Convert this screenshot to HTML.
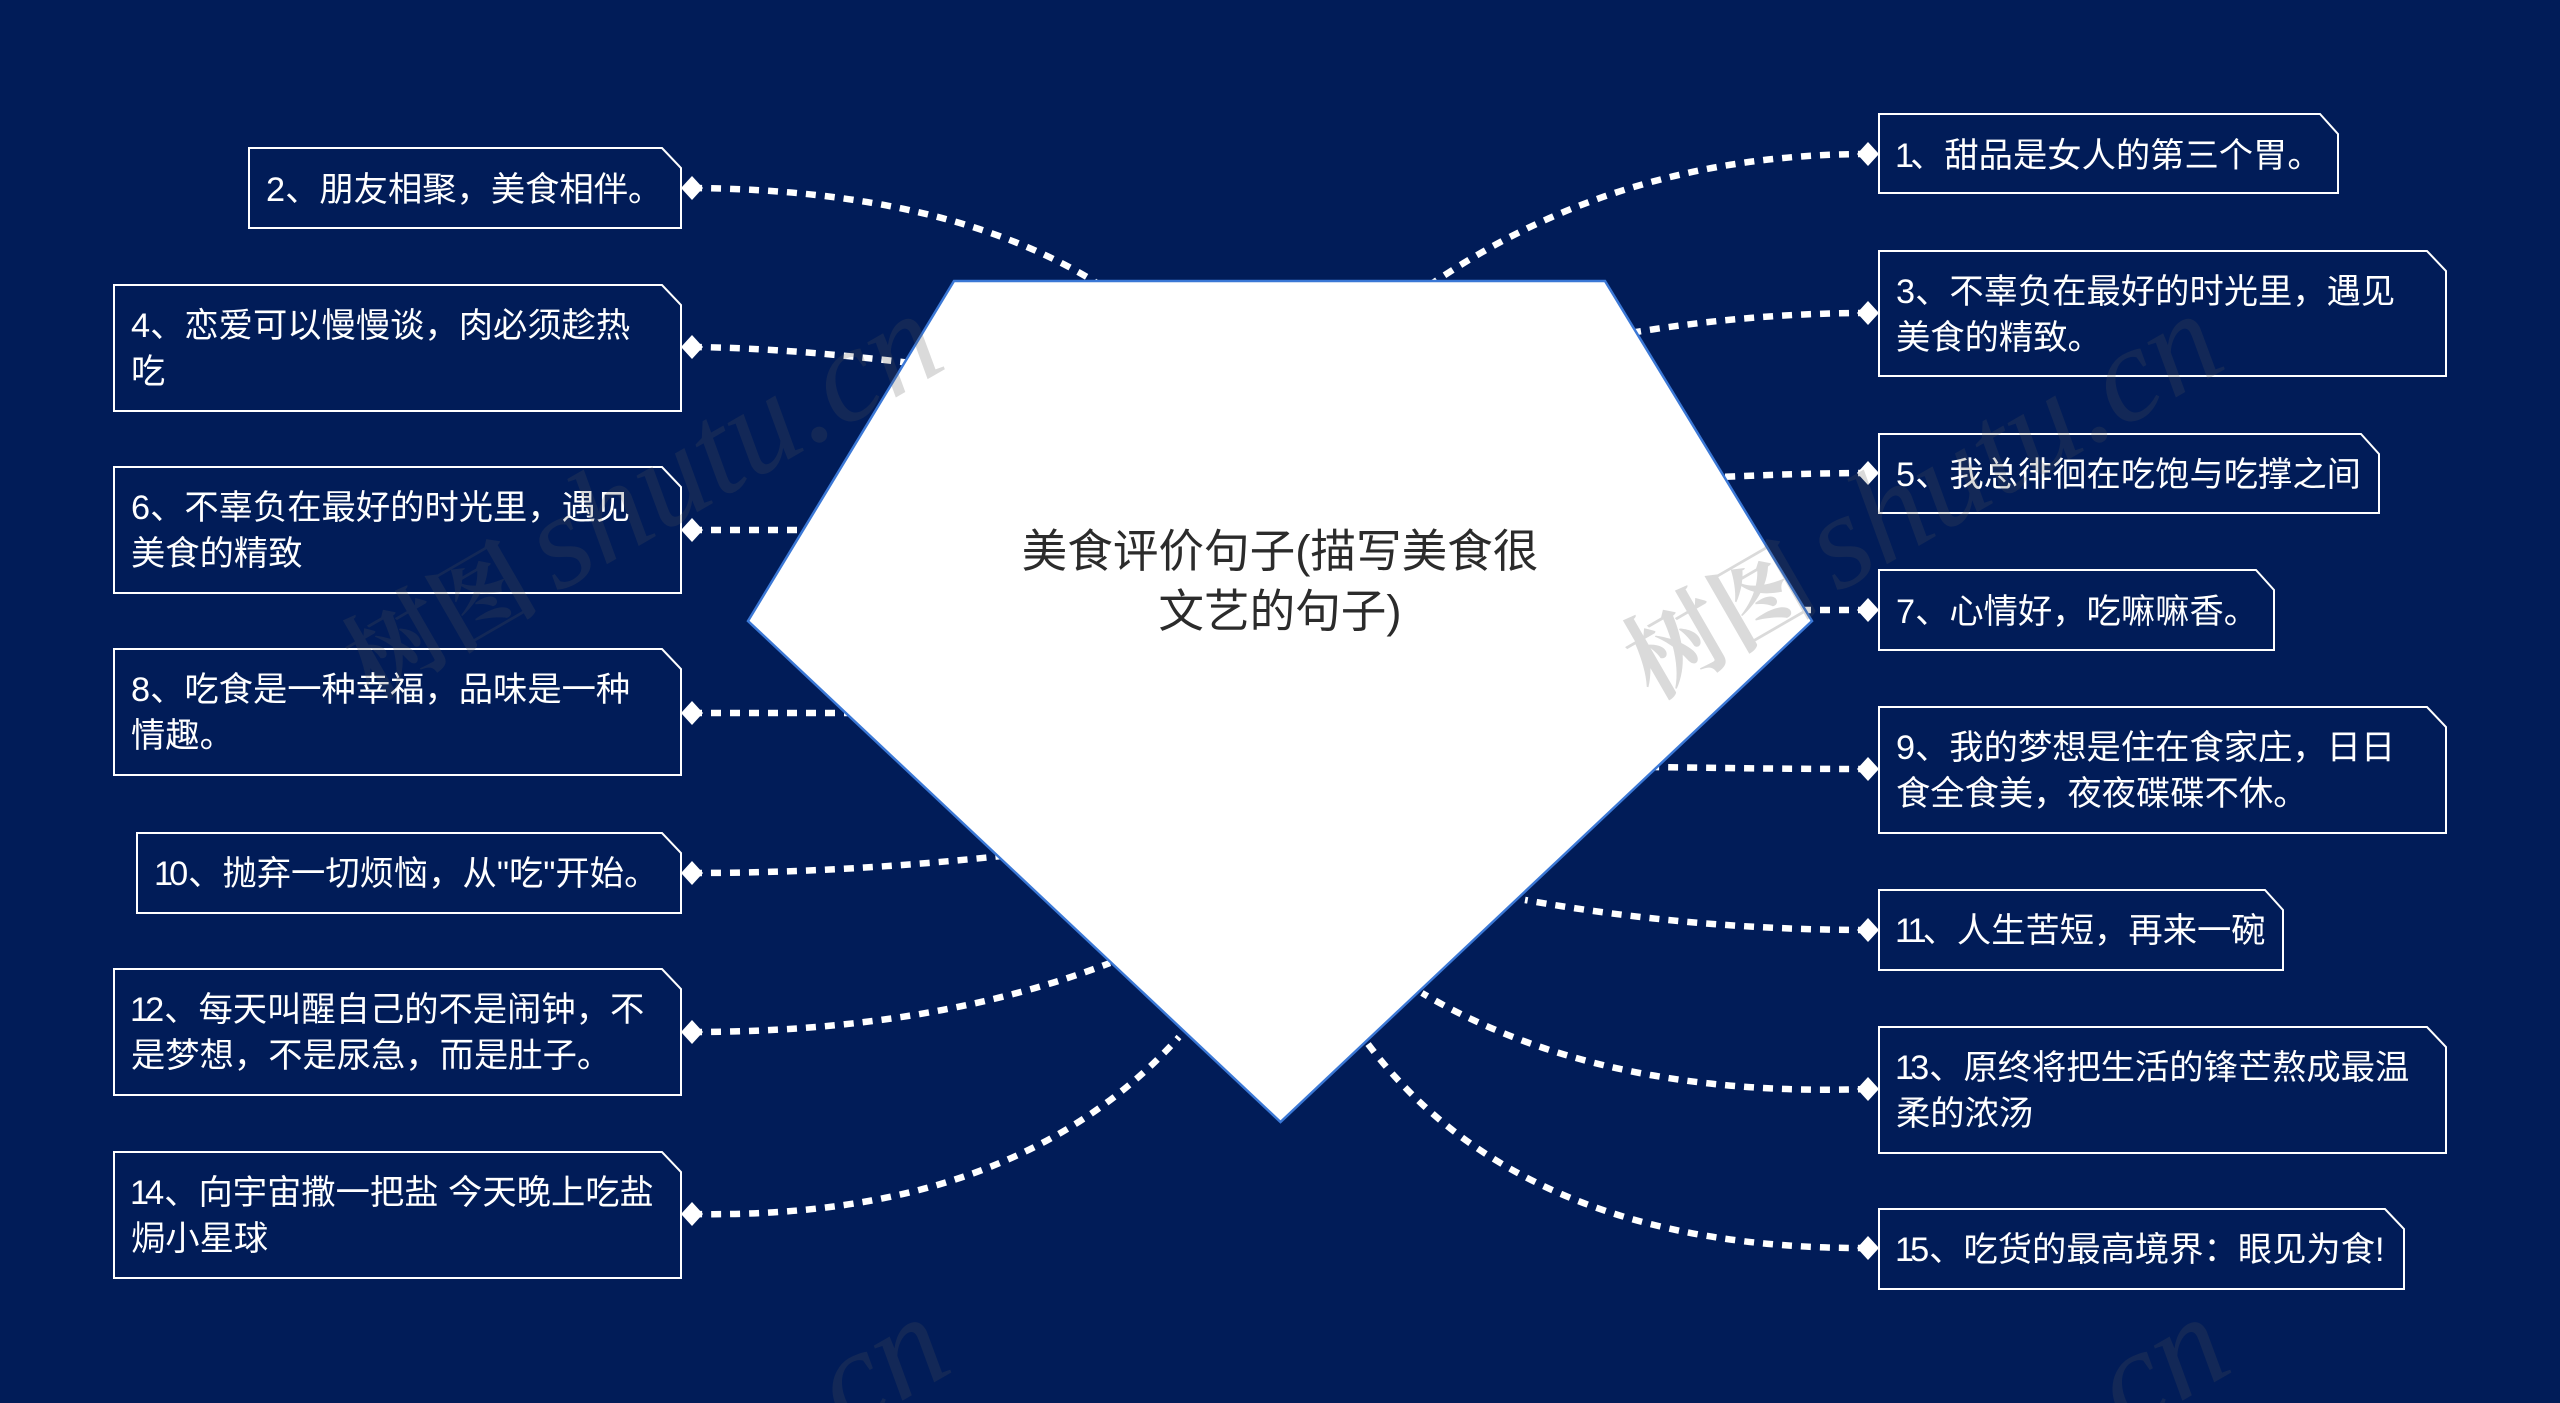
<!DOCTYPE html>
<html><head><meta charset="utf-8"><style>
html,body{margin:0;padding:0;background:#011c58;width:2560px;height:1403px;overflow:hidden}
svg{display:block}
.t{font-family:"Liberation Sans","Noto Sans CJK SC",sans-serif;font-size:34.3px;fill:#fff}
.box{fill:#011c58;stroke:#fff;stroke-width:2}
.c{fill:none;stroke:#fff;stroke-width:6.5;stroke-dasharray:10 9}
.w{font-style:italic;fill:rgba(85,85,85,.22)}
.n{letter-spacing:-4px}
</style></head><body>
<svg width="2560" height="1403" viewBox="0 0 2560 1403" xmlns="http://www.w3.org/2000/svg">
<rect width="2560" height="1403" fill="#011c58"/>
<!-- connectors -->
<path class="c" d="M1868 154Q1620 154 1430 285"/>
<path class="c" d="M1868 313Q1750 313 1630 333"/>
<path class="c" d="M1868 473Q1800 473 1700 478"/>
<path class="c" d="M1868 610L1790 610"/>
<path class="c" d="M1868 769Q1780 769 1650 767"/>
<path class="c" d="M1868 930Q1693 930 1525 900"/>
<path class="c" d="M1868 1089Q1600 1098 1422 993"/>
<path class="c" d="M1868 1248Q1520 1250 1365 1040"/>
<path class="c" d="M692 188Q950 190 1100 285"/>
<path class="c" d="M692 347Q800 348 950 368"/>
<path class="c" d="M692 530L850 530"/>
<path class="c" d="M692 713L900 713"/>
<path class="c" d="M692 873Q850 873 1020 854"/>
<path class="c" d="M692 1032Q930 1032 1110 963"/>
<path class="c" d="M692 1214Q1014 1220 1179 1037"/>
<!-- center -->
<polygon points="954,281 1605,281 1812,621 1280.5,1122 748,621" fill="#fff" stroke="#3b78d6" stroke-width="2.5"/>
<g font-family="'Liberation Sans','Noto Sans CJK SC',sans-serif" font-size="45.6" fill="#2b2b2b" text-anchor="middle">
<text x="1280" y="567">美食评价句子(描写美食很</text>
<text x="1280" y="627">文艺的句子)</text>
</g>
<!-- right boxes -->
<path class="box" d="M1879 114H2320L2338 134V193H1879Z"/>
<path class="box" d="M1879 251H2427L2446 271V376H1879Z"/>
<path class="box" d="M1879 434H2361L2379 454V513H1879Z"/>
<path class="box" d="M1879 570H2256L2274 590V650H1879Z"/>
<path class="box" d="M1879 707H2427L2446 727V833H1879Z"/>
<path class="box" d="M1879 890H2265L2283 910V970H1879Z"/>
<path class="box" d="M1879 1027H2427L2446 1047V1153H1879Z"/>
<path class="box" d="M1879 1209H2385L2404 1229V1289H1879Z"/>
<!-- left boxes -->
<path class="box" d="M249 148H662L681 168V228H249Z"/>
<path class="box" d="M114 285H662L681 305V411H114Z"/>
<path class="box" d="M114 467H662L681 487V593H114Z"/>
<path class="box" d="M114 649H662L681 669V775H114Z"/>
<path class="box" d="M137 833H662L681 853V913H137Z"/>
<path class="box" d="M114 969H662L681 989V1095H114Z"/>
<path class="box" d="M114 1152H662L681 1172V1278H114Z"/>
<!-- diamonds -->
<g fill="#fff">
<polygon points="1857,154 1868,142 1879,154 1868,166"/>
<polygon points="1857,313 1868,301 1879,313 1868,325"/>
<polygon points="1857,473 1868,461 1879,473 1868,485"/>
<polygon points="1857,610 1868,598 1879,610 1868,622"/>
<polygon points="1857,769 1868,757 1879,769 1868,781"/>
<polygon points="1857,930 1868,918 1879,930 1868,942"/>
<polygon points="1857,1089 1868,1077 1879,1089 1868,1101"/>
<polygon points="1857,1248 1868,1236 1879,1248 1868,1260"/>
<polygon points="681,188 692,176 703,188 692,200"/>
<polygon points="681,347 692,335 703,347 692,359"/>
<polygon points="681,530 692,518 703,530 692,542"/>
<polygon points="681,713 692,701 703,713 692,725"/>
<polygon points="681,873 692,861 703,873 692,885"/>
<polygon points="681,1032 692,1020 703,1032 692,1044"/>
<polygon points="681,1214 692,1202 703,1214 692,1226"/>
</g>
<!-- right text -->
<text class="t" x="1895" y="167"><tspan class="n">1</tspan>、甜品是女人的第三个胃。</text>
<text class="t" x="1896" y="303">3、不辜负在最好的时光里，遇见</text>
<text class="t" x="1896" y="349">美食的精致。</text>
<text class="t" x="1896" y="486">5、我总徘徊在吃饱与吃撑之间</text>
<text class="t" x="1896" y="623">7、心情好，吃嘛嘛香。</text>
<text class="t" x="1896" y="759">9、我的梦想是住在食家庄，日日</text>
<text class="t" x="1896" y="805">食全食美，夜夜碟碟不休。</text>
<text class="t" x="1895" y="942"><tspan class="n">11</tspan>、人生苦短，再来一碗</text>
<text class="t" x="1895" y="1079"><tspan class="n">1</tspan>3、原终将把生活的锋芒熬成最温</text>
<text class="t" x="1896" y="1125">柔的浓汤</text>
<text class="t" x="1895" y="1261"><tspan class="n">1</tspan>5、吃货的最高境界：眼见为食!</text>
<!-- left text -->
<text class="t" x="266" y="201">2、朋友相聚，美食相伴。</text>
<text class="t" x="131" y="337">4、恋爱可以慢慢谈，肉必须趁热</text>
<text class="t" x="131" y="383">吃</text>
<text class="t" x="131" y="519">6、不辜负在最好的时光里，遇见</text>
<text class="t" x="131" y="565">美食的精致</text>
<text class="t" x="131" y="701">8、吃食是一种幸福，品味是一种</text>
<text class="t" x="131" y="747">情趣。</text>
<text class="t" x="154" y="885"><tspan class="n">1</tspan>0、抛弃一切烦恼，从"吃"开始。</text>
<text class="t" x="130" y="1021"><tspan class="n">1</tspan>2、每天叫醒自己的不是闹钟，不</text>
<text class="t" x="131" y="1067">是梦想，不是尿急，而是肚子。</text>
<text class="t" x="130" y="1204"><tspan class="n">1</tspan>4、向宇宙撒一把盐 今天晚上吃盐</text>
<text class="t" x="131" y="1250">焗小星球</text>
<!-- watermarks -->
<svg x="0" y="0" width="2560" height="1403" overflow="hidden">
<g class="w">
<g transform="translate(358,708) rotate(-30)"><text style="font-style:normal" font-family="'Noto Serif CJK SC',serif" font-weight="700" font-size="98" x="16" y="0">树图</text><text font-family="'Liberation Serif',serif" font-size="135" x="230" y="0">shutu.cn</text></g>
<g transform="translate(1638,708) rotate(-30)"><text style="font-style:normal" font-family="'Noto Serif CJK SC',serif" font-weight="700" font-size="98" x="16" y="0">树图</text><text font-family="'Liberation Serif',serif" font-size="135" x="230" y="0">shutu.cn</text></g>
<g transform="translate(365,1711) rotate(-30)"><text font-family="'Liberation Serif',serif" font-size="135" x="522" y="0">.cn</text></g>
<g transform="translate(1645,1711) rotate(-30)"><text font-family="'Liberation Serif',serif" font-size="135" x="522" y="0">.cn</text></g>
</g>
</svg>
</svg>
</body></html>
